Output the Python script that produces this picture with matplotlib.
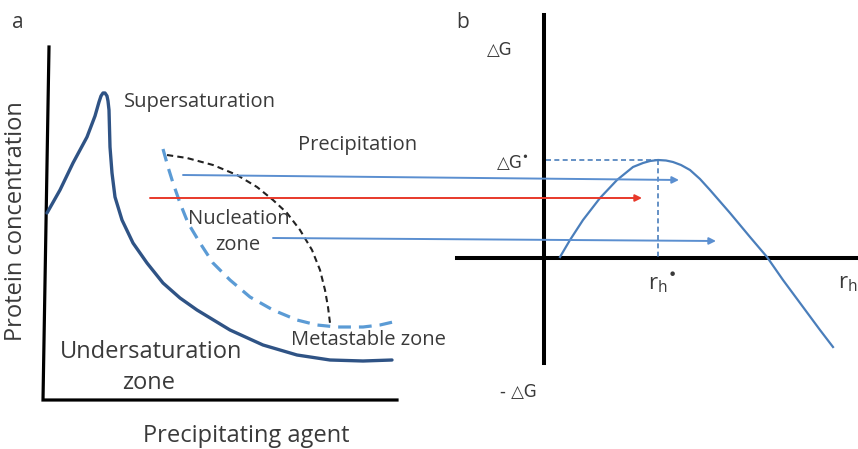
import numpy as np
from matplotlib import pyplot as plt

# ------------ data (schematic, in picture units: x right, y down)
# panel a: solubility curve
sol_x = [47, 60, 73, 87, 95, 99, 101, 103, 105, 107, 108, 109, 110, 112, 115, 122,
         133, 147, 163, 180, 197, 230, 263, 297, 330, 363, 392]
sol_y = [213, 190, 163, 137, 116, 102, 96, 93, 93, 96, 101, 110, 147, 173, 197, 220,
         243, 263, 283, 298, 310, 330, 345, 355, 360, 361, 360]
# supersolubility (dashed light blue)
sup_x = [163, 168, 173, 180, 188, 200, 213, 230, 250, 273, 297, 317, 337, 363, 380, 393]
sup_y = [149, 167, 183, 203, 223, 243, 263, 280, 297, 310, 320, 325, 327, 327, 325, 322]
# metastable limit (dashed black)
met_x = [167, 187, 213, 237, 257, 273, 287, 300, 312, 320, 325, 328, 330]
met_y = [155, 158, 165, 175, 187, 200, 213, 230, 250, 270, 290, 307, 323]
# arrows (start x, start y, end x, end y, colour)
arrows = [(183, 175, 679, 180, '#5b8fd0'),
          (150, 198, 642, 198, '#e8392a'),
          (273, 238, 716, 241, '#5b8fd0')]
# panel b: free energy curve
dg_x = [560, 570, 583, 600, 617, 633, 643, 650, 658, 666, 673, 681, 690, 700, 710,
        730, 750, 767, 783, 803, 820, 833]
dg_y = [257, 240, 220, 198, 180, 167, 163, 161, 160, 160.5, 162, 165, 170, 179, 190,
        213, 237, 257, 280, 307, 330, 347]
r_star = 658
g_star = 160

fig = plt.figure(figsize=(8.58, 4.49), dpi=100, facecolor='white')
ax = fig.add_axes([0, 0, 1, 1])
ax.set_xlim(0, 858)
ax.set_ylim(449, 0)
ax.axis('off')

txt = '#3a3a3a'
font = 'Open Sans'
small = 14.5
big = 17

# ------------ panel a
ax.text(12, 22, 'a', fontsize=15, color=txt, family=font, va='center')
ax.plot([49, 43, 397], [47, 400, 400], color='black', lw=2.3, solid_joinstyle='miter')
ax.plot(sol_x, sol_y, color='#2f5385', lw=2.4, solid_capstyle='round',
        solid_joinstyle='round')
ax.plot(sup_x, sup_y, color='#5b9bd5', lw=2.3, dashes=(4, 2.5))
ax.plot(met_x, met_y, color='#222222', lw=1.5, dashes=(3, 2))

for x0, y0, x1, y1, c in arrows:
    ax.annotate('', xy=(x1, y1), xytext=(x0, y0),
                arrowprops=dict(arrowstyle='-|>', color=c, lw=1.4,
                                mutation_scale=10, shrinkA=0, shrinkB=0))

ax.text(16, 221, 'Protein concentration', rotation=90, fontsize=big, color=txt,
        family=font, ha='center', va='center')
ax.text(246, 436, 'Precipitating agent', fontsize=big, color=txt, family=font,
        ha='center', va='center')
ax.text(200, 102, 'Supersaturation', fontsize=small, color=txt, family=font,
        ha='center', va='center')
ax.text(358, 145, 'Precipitation', fontsize=small, color=txt, family=font,
        ha='center', va='center')
ax.text(239, 219, 'Nucleation', fontsize=small, color=txt, family=font,
        ha='center', va='center')
ax.text(238, 245, 'zone', fontsize=small, color=txt, family=font,
        ha='center', va='center')
ax.text(368, 340, 'Metastable zone', fontsize=small, color=txt, family=font,
        ha='center', va='center')
ax.text(151, 352, 'Undersaturation', fontsize=big, color=txt, family=font,
        ha='center', va='center')
ax.text(149, 383, 'zone', fontsize=big, color=txt, family=font,
        ha='center', va='center')

# ------------ panel b
ax.text(456, 22, 'b', fontsize=15, color=txt, family=font, va='center')
ax.plot([544, 544], [15, 363], color='black', lw=2.9)
ax.plot([457, 858], [258, 258], color='black', lw=2.9)
ax.plot(dg_x, dg_y, color='#4a7ebb', lw=1.6, solid_joinstyle='round')
ax.plot([546, r_star], [g_star, g_star], color='#4a7ebb', lw=1.2, dashes=(3, 2))
ax.plot([r_star, r_star], [g_star, 258], color='#4a7ebb', lw=1.2, dashes=(3, 2))

ax.text(500, 50, '\u25b3G', fontsize=12, color=txt, family=['DejaVu Sans'],
        ha='center', va='center')
ax.text(512, 163, '\u25b3G$^{\u2022}$', fontsize=12, color=txt, family=['DejaVu Sans'],
        ha='center', va='center')
ax.text(518, 392, '- \u25b3G', fontsize=12, color=txt, family=['DejaVu Sans'],
        ha='center', va='center')
ax.text(662, 283, 'r$_\\mathregular{h}$$^{\u2022}$', fontsize=16, color=txt, family=font,
        ha='center', va='center')
ax.text(848, 283, 'r$_\\mathregular{h}$', fontsize=16, color=txt, family=font,
        ha='center', va='center')

plt.savefig('out.png', dpi=100, facecolor='white')
